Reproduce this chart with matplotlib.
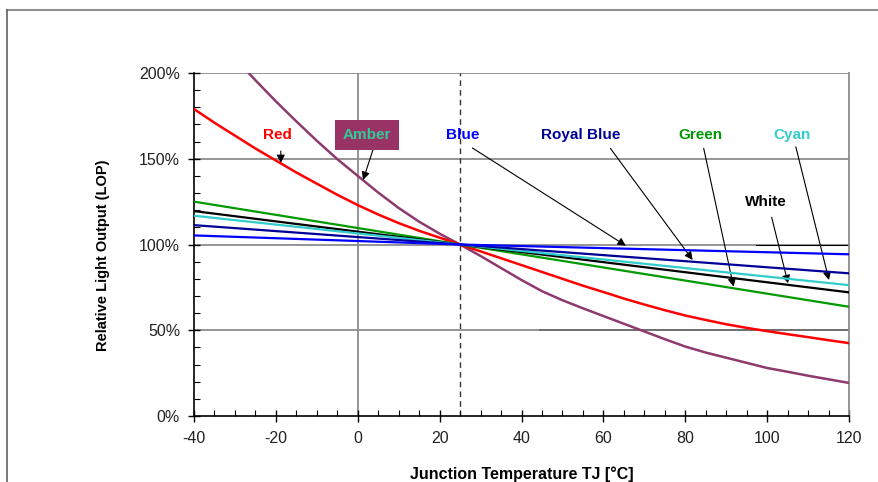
import matplotlib
matplotlib.use("Agg")
import matplotlib.pyplot as plt
from matplotlib.lines import Line2D
from matplotlib.ticker import MultipleLocator, FuncFormatter

plt.rcParams["font.family"] = ["Liberation Sans", "DejaVu Sans"]
plt.rcParams["axes.unicode_minus"] = False

# curves (temperature in degC, output in %)
curve_temps = [-40, -35, -30, -25, -20, -15, -10, -5, 0, 5, 10, 15, 20, 25, 30, 35, 40,
               45, 50, 55, 60, 65, 70, 75, 80, 85, 90, 95, 100, 105, 110, 115, 120]
red = [179, 171, 163.5, 156, 149, 142, 135.5, 129, 123, 117.5, 112.5, 108, 104, 100, 96, 92, 88,
       84, 80, 76, 72.3, 68.5, 65, 61.7, 58.6, 56, 53.5, 51.4, 49.5, 47.7, 46, 44.2, 42.5]
amber = [235.5, 221.8, 208.5, 195.8, 183.5, 171.8, 160.5, 149.8, 140, 130.3, 121.3, 113.3, 106.3, 100,
         93.3, 86.3, 79.3, 72.8, 67.5, 62.8, 58.3, 53.8, 49.3, 44.8, 40.5, 37, 34, 31, 28,
         25.8, 23.5, 21.4, 19.3]

line_temps = [-40, 25, 120]
green = [125, 100, 63.7]
white = [119.5, 100, 72.1]
cyan = [116.8, 100, 76.3]
royal_blue = [111.3, 100, 83.2]
blue = [105.3, 100, 94.3]

x_ticks = [-40, -20, 0, 20, 40, 60, 80, 100, 120]
y_ticks = [0, 50, 100, 150, 200]

fig = plt.figure(figsize=(8.79, 4.82), dpi=100)
ax = fig.add_axes([0.2207, 0.1369, 0.7452, 0.7116])

# gridlines
for y in y_ticks[1:]:
    ax.axhline(y, color="#8c8c8c", lw=1.3, zorder=1)
ax.axhline(50, xmin=(44.6 + 40) / 160, color="#6e6e6e", lw=1.3, zorder=1)
ax.axhline(100, xmin=(97.2 + 40) / 160, color="black", lw=0.8, zorder=1)
ax.axvline(0, color="#8c8c8c", lw=1.3, zorder=1)
ax.axvline(25, color="#333333", lw=1.0, ls=(0, (4, 3)), zorder=1)

ax.plot(curve_temps, amber, color="#8e3a6e", lw=1.8, zorder=3)
ax.plot(curve_temps, red, color="#ff0000", lw=1.8, zorder=4)
ax.plot(line_temps, green, color="#009900", lw=1.6, zorder=5)
ax.plot(line_temps, white, color="black", lw=1.6, zorder=5)
ax.plot(line_temps, cyan, color="#33cccc", lw=1.6, zorder=5)
ax.plot(line_temps, royal_blue, color="#000099", lw=1.6, zorder=6)
ax.plot(line_temps, blue, color="#0000ff", lw=1.6, zorder=7)

ax.set_xlim(-40, 120)
ax.set_ylim(0, 200)
ax.set_xticks(x_ticks)
ax.set_yticks(y_ticks)
ax.xaxis.set_minor_locator(MultipleLocator(5))
ax.yaxis.set_minor_locator(MultipleLocator(10))
ax.yaxis.set_major_formatter(FuncFormatter(lambda v, p: f"{int(v)}%"))
ax.tick_params(which="major", direction="inout", length=8, width=1, labelsize=11.5,
               labelcolor="#222222")
ax.tick_params(which="minor", direction="in", length=4, width=0.8)
ax.tick_params(axis="x", which="major", pad=7)
ax.tick_params(axis="y", which="major", pad=6)

ax.spines["top"].set_visible(False)
ax.spines["right"].set_color("#8c8c8c")
ax.spines["right"].set_linewidth(1.3)
for s in ("left", "bottom"):
    ax.spines[s].set_linewidth(1.2)

ax.set_xlabel("Junction Temperature TJ [°C]", fontsize=11.5, fontweight="bold")
ax.xaxis.set_label_coords(0.5, -0.169)
ax.xaxis.label.set_va("center")
ax.set_ylabel("Relative Light Output (LOP)", fontsize=10.5, fontweight="bold")
ax.yaxis.set_label_coords(-0.139, 0.47)
ax.yaxis.label.set_va("center")

arrow = dict(arrowstyle="-|>", color="black", lw=0.8, mutation_scale=12, shrinkA=0, shrinkB=0)
lab = dict(fontsize=11, fontweight="bold", ha="center", va="center")

ax.text(-19.5, 163.8, "Red", color="#ff0000", **lab)
ax.annotate("", xy=(-18.8, 147.5), xytext=(-18.8, 154.5), arrowprops=arrow)

ax.text(2.2, 163.8, "Amber", color="#33cc99", zorder=8,
        bbox=dict(boxstyle="square,pad=0.5", fc="#993366", ec="none"), **lab)
ax.annotate("", xy=(1.3, 137.6), xytext=(3.7, 155.1), arrowprops=arrow)

ax.text(25.7, 163.8, "Blue", color="#0000ff", **lab)
ax.annotate("", xy=(65.5, 99.3), xytext=(28.0, 156.3), arrowprops=arrow)

ax.text(54.5, 163.8, "Royal Blue", color="#000099", **lab)
ax.annotate("", xy=(81.8, 91.0), xytext=(61.7, 156.1), arrowprops=arrow)

ax.text(83.8, 163.8, "Green", color="#009900", **lab)
ax.annotate("", xy=(91.8, 75.4), xytext=(84.5, 156.1), arrowprops=arrow)

ax.text(106.0, 163.8, "Cyan", color="#33cccc", **lab)
ax.annotate("", xy=(115.1, 79.3), xytext=(107.0, 157.0), arrowprops=arrow)

ax.text(99.7, 125.0, "White", color="black", **lab)
ax.annotate("", xy=(105.1, 77.4), xytext=(101.1, 115.9), arrowprops=arrow)

# outer frame of the chart area
fig.add_artist(Line2D([7 / 879, 1], [1 - 9.5 / 482] * 2, color="#909090", lw=1.5))
fig.add_artist(Line2D([7.5 / 879] * 2, [0, 1 - 9.5 / 482], color="#606060", lw=1.2))

fig.savefig("out.png", dpi=100)
